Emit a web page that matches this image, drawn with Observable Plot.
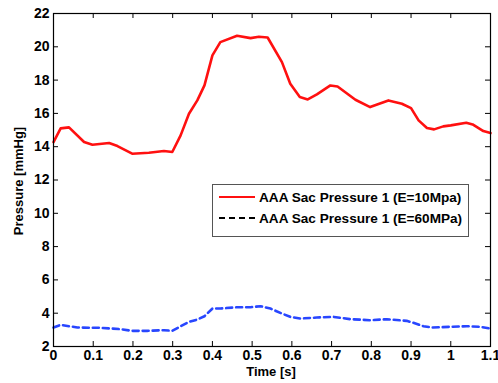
<!DOCTYPE html>
<html><head><meta charset="utf-8">
<script src="https://cdn.jsdelivr.net/npm/d3@7"></script>
<script src="https://cdn.jsdelivr.net/npm/@observablehq/plot@0.6"></script>
<style>
body{margin:0;background:#fff;}
#wrap{position:relative;width:498px;height:383px;font-family:"Liberation Sans",Arial,sans-serif;}
#legend{position:absolute;left:212px;top:184px;width:255px;height:51px;border:1px solid #555;background:#fff;font-size:13.6px;font-weight:bold;color:#000;}
.row{position:absolute;left:6px;height:16px;display:flex;align-items:center;white-space:nowrap;}
.row svg{margin-right:4px;}
</style></head>
<body><div id="wrap"></div>
<script>
const time10 = [0,0.018,0.039,0.077,0.098,0.14,0.161,0.198,0.24,0.278,0.299,0.32,0.341,0.362,0.38,0.4,0.42,0.462,0.496,0.517,0.539,0.575,0.596,0.62,0.64,0.663,0.697,0.715,0.76,0.797,0.843,0.877,0.9,0.919,0.94,0.958,0.981,1.0,1.039,1.055,1.082,1.1];
const p10 = [14.28,15.1,15.16,14.28,14.12,14.22,14.04,13.58,13.64,13.74,13.68,14.68,15.98,16.78,17.68,19.48,20.28,20.66,20.52,20.6,20.56,19.08,17.78,16.98,16.84,17.14,17.68,17.62,16.82,16.38,16.78,16.58,16.32,15.58,15.12,15.04,15.22,15.28,15.44,15.34,14.94,14.82];
const time60 = [0,0.018,0.06,0.119,0.169,0.198,0.236,0.278,0.299,0.32,0.341,0.362,0.38,0.4,0.42,0.462,0.496,0.521,0.546,0.575,0.596,0.621,0.663,0.705,0.747,0.797,0.839,0.889,0.906,0.931,0.952,0.998,1.04,1.073,1.1];
const p60 = [3.14,3.3,3.14,3.12,3.04,2.94,2.94,2.98,2.94,3.22,3.48,3.62,3.82,4.28,4.28,4.36,4.36,4.42,4.28,3.98,3.78,3.68,3.74,3.78,3.64,3.58,3.64,3.54,3.42,3.22,3.14,3.18,3.22,3.18,3.08];
const xTicks = [0,0.1,0.2,0.3,0.4,0.5,0.6,0.7,0.8,0.9,1,1.1];
const yTicks = [2,4,6,8,10,12,14,16,18,20,22];
const seriesNames = ["AAA Sac Pressure 1 (E=10Mpa)","AAA Sac Pressure 1 (E=60MPa)"];

const W = 498, H = 383, mT = 13, mR = 8, mB = 37, mL = 53;
const pw = W - mL - mR, ph = H - mT - mB, tk = 5;
const d10 = time10.map((t,i)=>({t, p:p10[i]}));
const d60 = time60.map((t,i)=>({t, p:p60[i]}));

const chart = Plot.plot({
  width: W, height: H, marginTop: mT, marginRight: mR, marginBottom: mB, marginLeft: mL,
  style: {fontFamily: '"Liberation Sans", Arial, sans-serif', fontSize: "14px", fontWeight: "bold", color: "#000", background: "#fff", overflow: "visible"},
  x: {domain: [0, 1.1]},
  y: {domain: [2, 22]},
  marks: [
    Plot.axisX(xTicks, {tickSize: 0, tickPadding: 4, tickFormat: d => String(d), label: null, fontSize: 14, fontWeight: "bold"}),
    Plot.axisY(yTicks, {tickSize: 0, tickPadding: 4, label: null, fontSize: 14, fontWeight: "bold"}),
    Plot.tickX(xTicks, {x: d => d, insetTop: ph - tk, stroke: "#000"}),
    Plot.tickX(xTicks, {x: d => d, insetBottom: ph - tk, stroke: "#000"}),
    Plot.tickY(yTicks, {y: d => d, insetRight: pw - tk, stroke: "#000"}),
    Plot.tickY(yTicks, {y: d => d, insetLeft: pw - tk, stroke: "#000"}),
    Plot.line(d10, {x: "t", y: "p", stroke: "#ff1010", strokeWidth: 2.6}),
    Plot.line(d60, {x: "t", y: "p", stroke: "#2846ff", strokeWidth: 2.6, strokeDasharray: "6,4"}),
    Plot.frame({stroke: "#000", strokeWidth: 1.2})
  ]
});
const wrap = document.getElementById("wrap");
wrap.appendChild(chart);
const svg = d3.select(chart);
svg.append("text").attr("x", 271).attr("y", 376).attr("text-anchor","middle")
  .attr("font-size", 13).attr("font-weight","bold").text("Time [s]");
svg.append("text").attr("transform", `translate(23,181) rotate(-90)`).attr("text-anchor","middle")
  .attr("font-size", 13).attr("font-weight","bold").text("Pressure [mmHg]");

const leg = document.createElement("div");
leg.id = "legend";
leg.innerHTML = `
<div class="row" style="top:4px"><svg width="36" height="6"><line x1="0" x2="36" y1="3" y2="3" stroke="#ff1010" stroke-width="2"/></svg>${seriesNames[0]}</div>
<div class="row" style="top:25px"><svg width="36" height="6"><line x1="0" x2="36" y1="3" y2="3" stroke="#000" stroke-width="2" stroke-dasharray="6,4"/></svg>${seriesNames[1]}</div>`;
wrap.appendChild(leg);
</script></body></html>
